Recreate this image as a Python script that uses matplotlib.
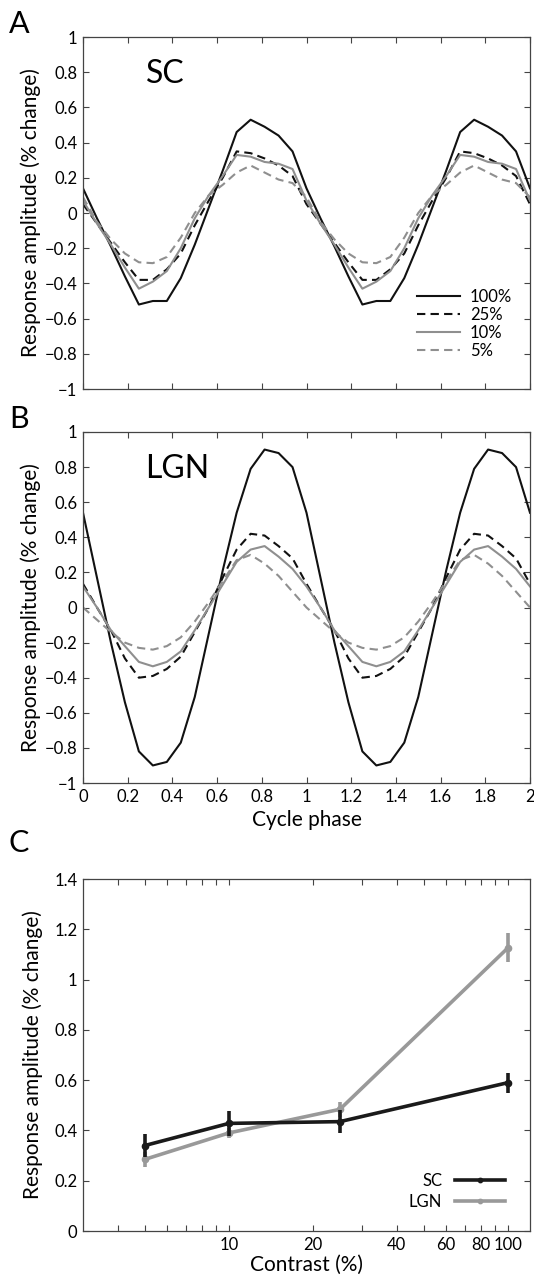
import matplotlib

matplotlib.use("Agg")
import matplotlib.pyplot as plt
import numpy as np
from matplotlib.ticker import FixedLocator, NullLocator, FuncFormatter

plt.rcParams["font.family"] = ["Lato", "DejaVu Sans"]
plt.rcParams["axes.unicode_minus"] = True

# one stimulus cycle, 16 samples (phase 0 .. 15/16); shown twice
sc_100 = [0.14, -0.03, -0.19, -0.36, -0.52, -0.50, -0.50, -0.37,
          -0.18, 0.03, 0.24, 0.46, 0.53, 0.49, 0.44, 0.35]
sc_25 = [0.05, -0.06, -0.17, -0.28, -0.38, -0.38, -0.32, -0.23,
         -0.07, 0.07, 0.20, 0.35, 0.34, 0.31, 0.27, 0.21]
sc_10 = [0.07, -0.06, -0.18, -0.31, -0.43, -0.39, -0.33, -0.20,
         -0.03, 0.10, 0.21, 0.33, 0.32, 0.29, 0.28, 0.25]
sc_5 = [0.09, -0.05, -0.15, -0.23, -0.28, -0.285, -0.25, -0.14,
        0.0, 0.10, 0.16, 0.23, 0.27, 0.23, 0.19, 0.17]

lgn_100 = [0.54, 0.17, -0.20, -0.54, -0.82, -0.90, -0.88, -0.77,
           -0.51, -0.15, 0.21, 0.54, 0.79, 0.90, 0.88, 0.80]
lgn_25 = [0.135, 0.0, -0.13, -0.29, -0.40, -0.39, -0.35, -0.28,
          -0.14, 0.0, 0.17, 0.33, 0.42, 0.41, 0.35, 0.28]
lgn_10 = [0.12, 0.0, -0.13, -0.22, -0.31, -0.335, -0.31, -0.25,
          -0.13, 0.0, 0.13, 0.26, 0.33, 0.35, 0.29, 0.22]
lgn_5 = [0.0, -0.07, -0.14, -0.20, -0.23, -0.24, -0.22, -0.17,
         -0.08, 0.03, 0.15, 0.27, 0.30, 0.25, 0.18, 0.09]

contrast_labels = ["100%", "25%", "10%", "5%"]

# panel C: mean amplitude vs contrast
contrast = [5, 10, 25, 100]
sc_amp = [0.34, 0.428, 0.435, 0.59]
sc_err = [0.045, 0.05, 0.047, 0.04]
lgn_amp = [0.285, 0.39, 0.484, 1.126]
lgn_err = [0.03, 0.02, 0.03, 0.058]

GRAY = "#8f8f8f"
BLACK = "#111111"
SPINE = "#444444"
LABEL_FS = 15
TICK_FS = 12


def two_cycles(v):
    v = list(v)
    return np.array(v + v + [v[0]])


phase = np.arange(33) / 16


def g_fmt(x, pos):
    s = f"{x:g}"
    if s == "-0":
        s = "0"
    return s.replace("-", "\u2212")


def style_axes(ax):
    for sp in ax.spines.values():
        sp.set_color(SPINE)
        sp.set_linewidth(0.9)
    ax.tick_params(direction="in", length=4, width=0.8, color=SPINE,
                   top=True, right=True, labelsize=TICK_FS, pad=4)
    ax.tick_params(which="minor", direction="in", length=4, width=0.8,
                   color=SPINE, top=True, right=True)


def cycle_panel(ax, series, name):
    styles = [
        dict(color=BLACK, ls="-"),
        dict(color=BLACK, ls=(0, (4, 2.5))),
        dict(color=GRAY, ls="-"),
        dict(color=GRAY, ls=(0, (4, 2.5))),
    ]
    for vals, st, lab in zip(series, styles, contrast_labels):
        ax.plot(phase, two_cycles(vals), lw=1.5, label=lab, **st)
    ax.set_xlim(0, 2)
    ax.set_ylim(-1, 1)
    ax.set_xticks(np.round(np.arange(0, 2.01, 0.2), 1))
    ax.set_yticks(np.round(np.arange(-1, 1.01, 0.2), 1))
    ax.xaxis.set_major_formatter(FuncFormatter(g_fmt))
    ax.yaxis.set_major_formatter(FuncFormatter(g_fmt))
    ax.set_ylabel("Response amplitude (% change)", fontsize=LABEL_FS, labelpad=3)
    ax.text(0.28, 0.74, name, fontsize=23, ha="left", va="baseline")
    style_axes(ax)


fig = plt.figure(figsize=(5.34, 12.77), dpi=100)
W, H = 534, 1277


def px_axes(left, top, right, bottom):
    return fig.add_axes([left / W, 1 - bottom / H, (right - left) / W,
                         (bottom - top) / H])


axA = px_axes(83, 37, 530, 389)
axB = px_axes(83, 432, 530, 783)
axC = px_axes(83, 879, 530, 1231)

cycle_panel(axA, [sc_100, sc_25, sc_10, sc_5], "SC")
axA.tick_params(labelbottom=False)
axA.legend(loc="lower right", bbox_to_anchor=(0.96, 0.085), frameon=False,
           fontsize=12, handlelength=2.6, handletextpad=0.6,
           labelspacing=0.12, borderpad=0, borderaxespad=0)

cycle_panel(axB, [lgn_100, lgn_25, lgn_10, lgn_5], "LGN")
axB.set_xlabel("Cycle phase", fontsize=LABEL_FS, labelpad=4)

# panel C
axC.set_xscale("log")
for amp, err, col, lab, z in [(sc_amp, sc_err, "#1a1a1a", "SC", 3),
                              (lgn_amp, lgn_err, "#999999", "LGN", 2)]:
    axC.plot(contrast, amp, color=col, lw=2.6, marker="o", ms=4.5,
             label=lab, zorder=z)
    axC.errorbar(contrast, amp, yerr=err, fmt="none", ecolor=col,
                 elinewidth=2.6, capsize=0, zorder=z)
axC.set_xlim(3, 120)
axC.set_ylim(0, 1.4)
tick_pos = [4, 5, 6, 7, 8, 9, 10, 20, 30, 40, 50, 60, 70, 80, 90, 100]
tick_lab = {10: "10", 20: "20", 40: "40", 60: "60", 80: "80", 100: "100"}
axC.xaxis.set_major_locator(FixedLocator(tick_pos))
axC.xaxis.set_minor_locator(NullLocator())
axC.xaxis.set_major_formatter(FuncFormatter(lambda x, p: tick_lab.get(int(round(x)), "")))
axC.set_yticks(np.round(np.arange(0, 1.41, 0.2), 1))
axC.yaxis.set_major_formatter(FuncFormatter(g_fmt))
axC.set_xlabel("Contrast (%)", fontsize=LABEL_FS, labelpad=2)
axC.set_ylabel("Response amplitude (% change)", fontsize=LABEL_FS, labelpad=8)
style_axes(axC)
axC.legend(loc="lower right", bbox_to_anchor=(0.945, 0.06), frameon=False,
           fontsize=12, markerfirst=False, handlelength=3.0, markerscale=0.7,
           handletextpad=0.8, labelspacing=0.3, borderpad=0, borderaxespad=0)

for lab, y in [("A", 33), ("B", 428), ("C", 852)]:
    fig.text(9 / W, 1 - y / H, lab, fontsize=22, ha="left", va="baseline")

fig.savefig("out.png", dpi=100)
